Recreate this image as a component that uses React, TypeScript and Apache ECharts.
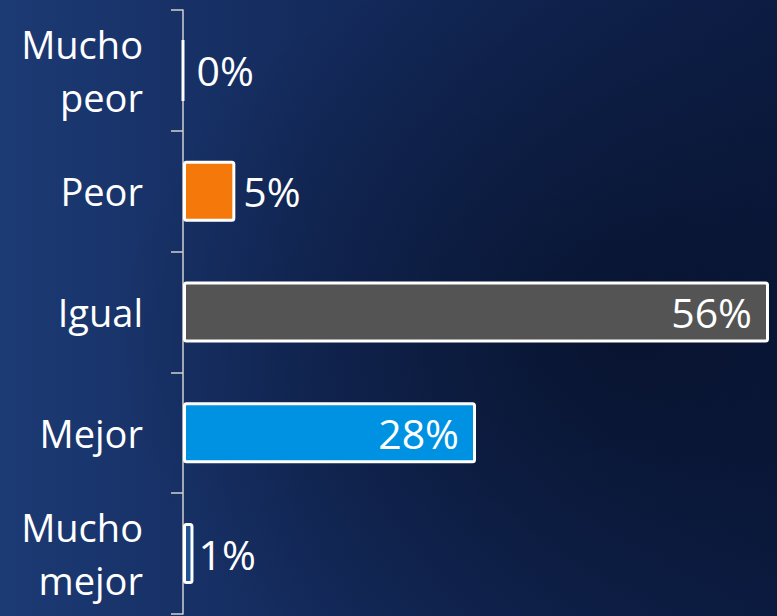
import React, { useEffect, useRef } from "react";
import * as echarts from "echarts";

const categories = ["Mucho\npeor", "Peor", "Igual", "Mejor", "Mucho\nmejor"];
const values = [0, 5, 56, 28, 1];
const barColors = ["#1f5393", "#f5780b", "#545454", "#0092e2", "#1f5393"];
const labelInside = [false, false, true, true, false];

export default function App() {
  const ref = useRef<HTMLDivElement>(null);
  useEffect(() => {
    if (!ref.current) return;
    const chart = echarts.init(ref.current, undefined, { renderer: "svg" });
    const fontFamily = "'Open Sans', 'Noto Sans', sans-serif";
    chart.setOption({
      animation: false,
      backgroundColor: {
        type: "linear",
        x: 0,
        y: 0,
        x2: 1,
        y2: 0,
        colorStops: [
          { offset: 0, color: "#1c3a74" },
          { offset: 0.4, color: "#142b5d" },
          { offset: 1, color: "#0d1d45" },
        ],
      },
      graphic: [
        {
          type: "rect",
          z: -10,
          silent: true,
          shape: { x: 0, y: 0, width: 777, height: 616 },
          style: {
            fill: {
              type: "radial",
              x: 0.8,
              y: 0.55,
              r: 0.65,
              colorStops: [
                { offset: 0, color: "rgba(3,10,28,0.6)" },
                { offset: 1, color: "rgba(3,10,28,0)" },
              ],
            },
          },
        },
      ],
      grid: { left: 183, right: 8, top: 10, bottom: 2, containLabel: false },
      xAxis: {
        type: "value",
        min: 0,
        max: 56,
        show: false,
      },
      yAxis: {
        type: "category",
        data: categories,
        inverse: true,
        axisLine: { show: true, lineStyle: { color: "#d0d0d0", width: 1.5 } },
        axisTick: { show: true, length: 12, lineStyle: { color: "#d0d0d0", width: 1.5 } },
        axisLabel: {
          color: "#ffffff",
          fontSize: 38,
          fontFamily,
          margin: 40,
          lineHeight: 53,
          align: "right",
        },
        splitLine: { show: false },
      },
      series: [
        {
          type: "bar",
          barWidth: 61,
          data: values.map((v, i) => ({
            value: v,
            itemStyle: { color: barColors[i] },
            label: labelInside[i]
              ? { position: "insideRight", distance: 17 }
              : { position: "right", distance: i === 0 ? 12 : i === 4 ? 5 : 8 },
          })),
          itemStyle: { borderColor: "#ffffff", borderWidth: 3, borderRadius: 2 },
          label: {
            show: true,
            color: "#ffffff",
            fontSize: 41,
            fontFamily,
            formatter: (p: any) => p.value + "%",
          },
        },
      ],
    });
    return () => chart.dispose();
  }, []);
  return <div ref={ref} style={{ position: "fixed", left: 0, top: 0, width: 777, height: 616 }} />;
}
